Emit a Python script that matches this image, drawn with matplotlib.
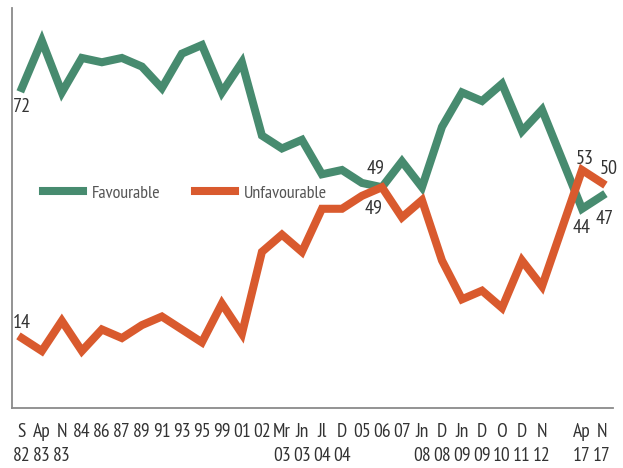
import matplotlib
matplotlib.use("Agg")
import matplotlib.pyplot as plt
from matplotlib import font_manager

# ---- data ----
positions = [0, 1, 2, 3, 4, 5, 6, 7, 8, 9, 10, 11, 12, 13, 14, 15, 16, 17, 18, 19,
             20, 21, 22, 23, 24, 25, 26, 28, 29]
tick_top = ["S", "Ap", "N", "84", "86", "87", "89", "91", "93", "95", "99", "01", "02",
            "Mr", "Jn", "Jl", "D", "05", "06", "07", "Jn", "D", "Jn", "D", "O", "D", "N",
            "Ap", "N"]
tick_bottom = ["82", "83", "83", "", "", "", "", "", "", "", "", "", "",
               "03", "03", "04", "04", "", "", "", "08", "08", "09", "09", "10", "11", "12",
               "17", "17"]
favourable = [72, 83, 71, 79, 78, 79, 77, 72, 80, 82, 71, 78, 61, 58, 60, 52, 53, 50, 49,
              55, 49, 63, 71, 69, 73, 62, 67, 44, 47]
unfavourable = [14, 11, 18, 11, 16, 14, 17, 19, 16, 13, 22, 15, 34, 38, 34, 44, 44, 47, 49,
                42, 46, 32, 23, 25, 21, 32, 26, 53, 50]

GREEN = "#478b6f"
ORANGE = "#d95a2e"
TEXT = "#333333"

avail = {f.name for f in font_manager.fontManager.ttflist}
prefs = ["PT Sans Narrow", "Fira Sans Condensed", "Roboto Condensed", "Archivo Narrow",
         "Open Sans Condensed", "Encode Sans Condensed", "Asap Condensed",
         "Liberation Sans Narrow", "DejaVu Sans"]
fam = next(p for p in prefs if p in avail)
plt.rcParams["font.family"] = [fam, "DejaVu Sans"]

fig = plt.figure(figsize=(6.23, 4.68), dpi=100)
ax = fig.add_axes([0.019, 0.128, 0.965, 0.855])

ax.plot(positions, favourable, color=GREEN, lw=5.8, solid_joinstyle="miter",
        label="Favourable")
ax.plot(positions, unfavourable, color=ORANGE, lw=5.8, solid_joinstyle="miter",
        label="Unfavourable")

ax.set_xlim(-0.5, 29.55)
ax.set_ylim(-2.25, 90.6)

for s in ["top", "right"]:
    ax.spines[s].set_visible(False)
for s in ["left", "bottom"]:
    ax.spines[s].set_color("#8a8a8a")
    ax.spines[s].set_linewidth(1.3)

ax.set_yticks([])
ax.set_xticks(positions)
ax.set_xticklabels([f"{a}\n{b if b else ' '}" for a, b in zip(tick_top, tick_bottom)],
                   fontsize=14, color=TEXT, linespacing=1.4)
ax.tick_params(axis="x", length=0, pad=11)

# value labels (offsets in pixels from the data point)
fs = 14.5
def lab(i, series, text, dx, dy):
    ax.annotate(text, (positions[i], series[i]), xytext=(dx, dy), textcoords="offset pixels",
                ha="center", va="center", fontsize=fs, color=TEXT)

lab(0, favourable, "72", 0, -19)
lab(0, unfavourable, "14", 0, 15)
lab(18, favourable, "49", -6, 18)
lab(18, unfavourable, "49", -8, -22)
lab(27, unfavourable, "53", 3, 11)
lab(28, unfavourable, "50", 7, 14)
lab(27, favourable, "44", 0, -19)
lab(28, favourable, "47", 3, -23)

leg = ax.legend(loc="center left", bbox_to_anchor=(0.052, 0.537), ncol=2, frameon=False,
                fontsize=13, handlelength=2.2, handletextpad=0.5, columnspacing=1.9,
                labelcolor="#555555", borderaxespad=0, borderpad=0)
for h in leg.get_lines():
    h.set_linewidth(5.8)

fig.savefig("out.png", dpi=100)
